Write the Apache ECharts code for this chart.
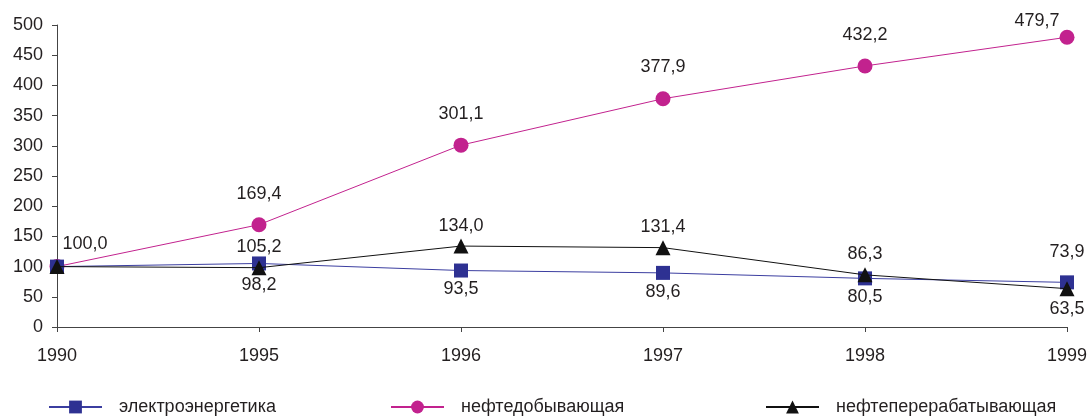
<!DOCTYPE html>
<html><head><meta charset="utf-8">
<script src="https://cdn.jsdelivr.net/npm/echarts@6/dist/echarts.min.js"></script>
<style>html,body{margin:0;padding:0;background:#fff}#c{width:1092px;height:416px}</style>
</head><body><div id="c"></div>
<script>
var years = ['1990','1995','1996','1997','1998','1999'];
var electro = [100.0, 105.2, 93.5, 89.6, 80.5, 73.9];
var neftedob = [100.0, 169.4, 301.1, 377.9, 432.2, 479.7];
var neftepererab = [100.0, 98.2, 134.0, 131.4, 86.3, 63.5];
var yTicks = [0, 50, 100, 150, 200, 250, 300, 350, 400, 450, 500];

var FONT = 'Liberation Sans, Arial, sans-serif';
var FS = 18;
var TXT = '#231f20';
var fmt = function(v){ return v.toFixed(1).replace('.', ','); };

// label styling per point (style only): [position, distance, offsetX, offsetY]
var electroLbl = [null, ['top',0], ['bottom',3], ['bottom',3], ['bottom',3], ['top',14]];
var dobLbl = [['inside',0,28,-23], ['top',14], ['top',15], ['top',15], ['top',14], ['top',0,-30,0]];
var pererabLbl = [null, ['bottom',1], ['top',4], ['top',4], ['top',4], ['bottom',4]];

function mk(vals, lbls){
  return vals.map(function(v,i){
    var l = lbls[i];
    var d = {value: v};
    if (!l) { d.label = {show:false}; }
    else { d.label = {show:true, position:l[0], distance:l[1], offset:[l[2]||0, l[3]||0]}; }
    return d;
  });
}
var lblStyle = {show:true, color:TXT, fontFamily:FONT, fontSize:FS, formatter:function(p){return fmt(p.value);}};

var chart = echarts.init(document.getElementById('c'));
chart.setOption({
  animation:false,
  grid:{left:57, right:25, top:25, bottom:89},
  xAxis:{type:'category', data:years, boundaryGap:false,
    axisLine:{lineStyle:{color:'#444', width:1}},
    axisTick:{show:true, length:5, alignWithLabel:true, lineStyle:{color:'#444'}},
    axisLabel:{color:TXT, fontFamily:FONT, fontSize:FS, margin:20}},
  yAxis:{type:'value', min:yTicks[0], max:yTicks[yTicks.length-1], interval:50,
    axisLine:{show:true, lineStyle:{color:'#444', width:1}},
    axisTick:{show:true, length:5, lineStyle:{color:'#444'}},
    splitLine:{show:false},
    axisLabel:{color:TXT, fontFamily:FONT, fontSize:FS, margin:14}},
  legend:[
    {data:['электроэнергетика'], left:43, top:393},
    {data:['нефтедобывающая'], left:385, top:393},
    {data:['нефтеперерабатывающая'], left:760, top:393}
  ].map(function(l){ return Object.assign(l, {itemWidth:53, itemHeight:16,
    textStyle:{color:TXT, fontFamily:FONT, fontSize:FS, padding:[0,0,0,12]}}); }),
  series:[
    {name:'электроэнергетика', type:'line', data:mk(electro, electroLbl),
      symbol:'rect', symbolSize:14, color:'#2E3192', lineStyle:{width:1, color:'#3b3ea0'},
      itemStyle:{color:'#2E3192'}, label:lblStyle, z:3},
    {name:'нефтедобывающая', type:'line', data:mk(neftedob, dobLbl),
      symbol:'circle', symbolSize:15, color:'#C2228E', lineStyle:{width:1, color:'#C2228E'},
      itemStyle:{color:'#C2228E'}, label:lblStyle, z:2},
    {name:'нефтеперерабатывающая', type:'line', data:mk(neftepererab, pererabLbl),
      symbol:'triangle', symbolSize:15, color:'#111', lineStyle:{width:1, color:'#111'},
      itemStyle:{color:'#111'}, label:lblStyle, z:4}
  ]
});
</script></body></html>
